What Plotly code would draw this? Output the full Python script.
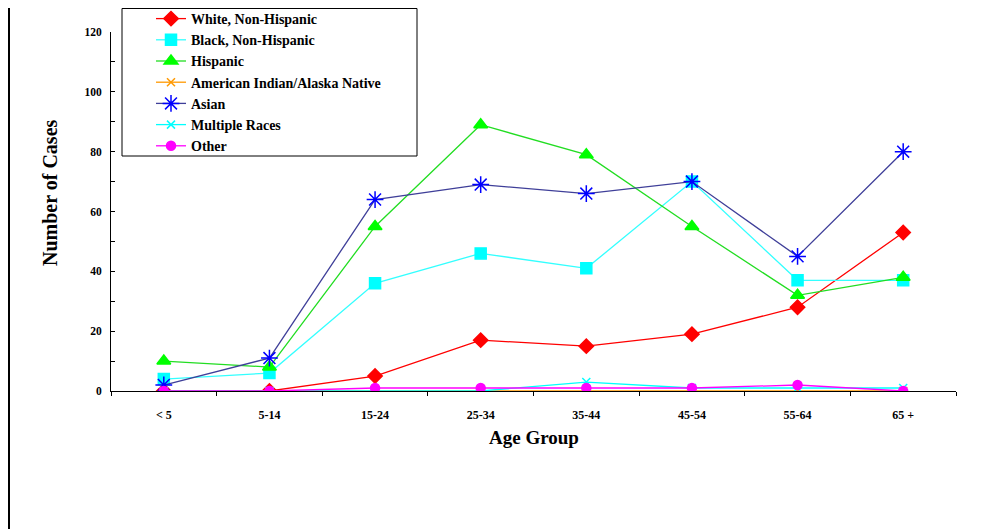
import plotly.graph_objects as go

age_groups = ["< 5", "5-14", "15-24", "25-34", "35-44", "45-54", "55-64", "65 +"]
white = [0, 0, 5, 17, 15, 19, 28, 53]
black = [4, 6, 36, 46, 41, 70, 37, 37]
hispanic = [10, 8, 55, 89, 79, 55, 32, 38]
aian = [0, 0, 0, 0, 0, 0, 0, 0]
asian = [2, 11, 64, 69, 66, 70, 45, 80]
multiple = [0, 0, 0, 0, 3, 1, 1, 1]
other = [0, 0, 1, 1, 1, 1, 2, 0]

series = [
    ("White, Non-Hispanic", white, "#FF0000", "#FF0000", "diamond", 11),
    ("Black, Non-Hispanic", black, "#33FFFF", "#00FFFF", "square", 11),
    ("Hispanic", hispanic, "#22DD22", "#00FF00", "triangle-up", 12),
    ("American Indian/Alaska Native", aian, "#FF9900", "#FF9900", "x-thin", 8),
    ("Asian", asian, "#3F3F99", "#0000FF", "asterisk", 14),
    ("Multiple Races", multiple, "#00FFFF", "#00FFFF", "x-thin", 8),
    ("Other", other, "#FF00FF", "#FF00FF", "circle", 9),
]

fig = go.Figure()
for name, vals, lc, mc, sym, sz in series:
    fig.add_trace(go.Scatter(
        x=age_groups, y=vals, name=name, mode="lines+markers",
        line=dict(color=lc, width=1.3),
        marker=dict(symbol=sym, size=sz, color=mc, line=dict(color=mc, width=1.5)),
    ))

W, H = 989, 521
L, R, T, B = 103, 41, 24, 138
pw, ph = W - L - R, H - T - B

def px(fx):
    return (fx - L) / pw

def py(fy):
    return (H - B - fy) / ph

font_family = "Liberation Serif, Times New Roman, serif"
fig.update_layout(
    width=W, height=H,
    margin=dict(l=L, r=R, t=T, b=B, autoexpand=False),
    paper_bgcolor="white", plot_bgcolor="white",
    font=dict(family=font_family, color="black"),
    showlegend=True,
    legend=dict(
        xref="paper", yref="paper",
        x=px(143), y=py(-5), xanchor="left", yanchor="top",
        bgcolor="rgba(0,0,0,0)", borderwidth=0,
        font=dict(family=font_family, size=14, color="black", weight="bold"),
        itemwidth=30,
    ),
    xaxis=dict(
        type="category", range=[-0.5, 7.5], automargin=False,
        showline=True, linecolor="black", linewidth=1,
        ticks="outside", tickson="boundaries", ticklen=4, tickcolor="black",
        showgrid=False, zeroline=False, ticklabelstandoff=13,
        tickfont=dict(family=font_family, size=12, weight="bold"),
    ),
    yaxis=dict(
        range=[0, 120], tickvals=[0, 20, 40, 60, 80, 100, 120], automargin=False,
        showline=True, linecolor="black", linewidth=1,
        ticks="inside", ticklen=4, tickcolor="black",
        minor=dict(tickvals=[10, 30, 50, 70, 90, 110], ticks="inside", ticklen=4, tickcolor="black"),
        showgrid=False, zeroline=False, ticklabelstandoff=6,
        tickfont=dict(family=font_family, size=11.5, weight="bold"),
    ),
)

# axis titles
fig.add_annotation(text="Number of Cases", xref="paper", yref="paper",
                   x=px(42), y=py(184), textangle=-90, showarrow=False,
                   xanchor="center", yanchor="middle",
                   font=dict(family=font_family, size=20, weight="bold", color="black"))
fig.add_annotation(text="Age Group", xref="paper", yref="paper",
                   x=0.5, y=py(429), showarrow=False,
                   xanchor="center", yanchor="middle",
                   font=dict(family=font_family, size=19, weight="bold", color="black"))

# legend frame
fig.add_shape(type="rect", xref="paper", yref="paper",
              x0=px(114), x1=px(409), y0=py(148), y1=py(0.5),
              line=dict(color="black", width=1), fillcolor="white", layer="below")

# left page frame line
fig.add_shape(type="line", xref="paper", yref="paper",
              x0=px(1), x1=px(1), y0=py(H), y1=py(0),
              line=dict(color="black", width=2))

fig.write_html("out.html")
